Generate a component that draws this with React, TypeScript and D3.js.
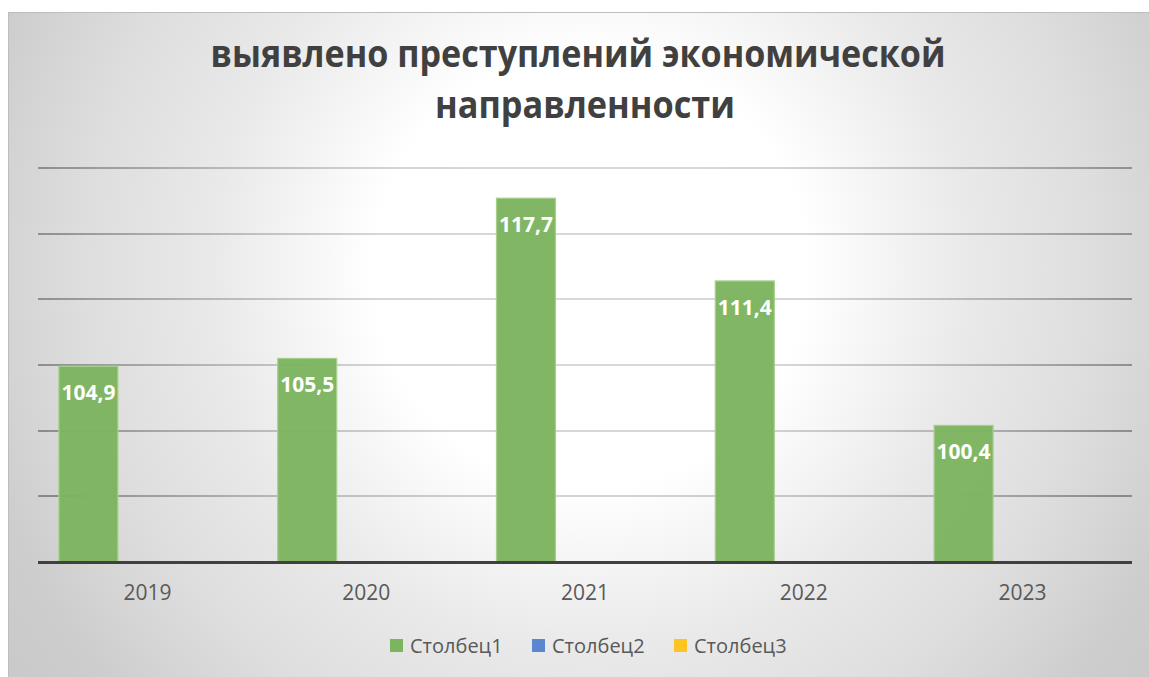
import React from "react";
import * as d3 from "d3";

const titleLines = ["выявлено преступлений экономической", "направленности"];
const categories = ["2019", "2020", "2021", "2022", "2023"];
const seriesNames = ["Столбец1", "Столбец2", "Столбец3"];
const series1 = [104.9, 105.5, 117.7, 111.4, 100.4];
const series2: (number | null)[] = [null, null, null, null, null];
const series3: (number | null)[] = [null, null, null, null, null];
const yTicks = [90, 95, 100, 105, 110, 115, 120];
const seriesColors = ["#7DB55F", "#5B87D0", "#FEC421"];

const W = 1149;
const H = 677;
const FONT = "'Open Sans', 'Noto Sans', sans-serif";

export default function App() {
  const allSeries = [series1, series2, series3];
  const x = d3.scaleBand<string>().domain(categories).range([38, 1132]).padding(0);
  const x1 = d3
    .scaleBand<string>()
    .domain(seriesNames)
    .range([0, x.bandwidth()])
    .paddingInner(0)
    .paddingOuter(0.354);
  const y = d3.scaleLinear().domain([90, 120]).range([562, 168]);
  const fmt = (v: number) => v.toFixed(1).replace(".", ",");

  return (
    <svg
      width={W}
      height={H}
      style={{ position: "absolute", left: 0, top: 0, display: "block" }}
    >
      <defs>
        <radialGradient id="bg" gradientUnits="userSpaceOnUse" cx={590} cy={270} r={720}>
          <stop offset="0" stopColor="#ffffff" />
          <stop offset="0.3" stopColor="#ffffff" />
          <stop offset="0.53" stopColor="#e9e9e9" />
          <stop offset="0.7" stopColor="#dedede" />
          <stop offset="0.8" stopColor="#d5d5d5" />
          <stop offset="0.88" stopColor="#cdcdcd" />
          <stop offset="1" stopColor="#c9c9c9" />
        </radialGradient>
        <radialGradient id="grid" gradientUnits="userSpaceOnUse" cx={590} cy={270} r={720}>
          <stop offset="0" stopColor="#d9d9d9" />
          <stop offset="0.3" stopColor="#d6d6d6" />
          <stop offset="0.55" stopColor="#b5b5b5" />
          <stop offset="0.8" stopColor="#8a8a8a" />
          <stop offset="1" stopColor="#808080" />
        </radialGradient>
      </defs>
      <rect x={0} y={0} width={W} height={H} fill="#ffffff" />
      <rect x={8.5} y={12.5} width={W} height={H} fill="url(#bg)" stroke="#bdbdbd" strokeWidth={1} />

      {/* title */}
      <text
        x={578}
        y={67}
        textAnchor="middle"
        fontFamily={FONT}
        fontWeight={700}
        fontSize={38}
        fill="#404040"
        textLength={735}
        lengthAdjust="spacingAndGlyphs"
      >
        {titleLines[0]}
      </text>
      <text
        x={585}
        y={118}
        textAnchor="middle"
        fontFamily={FONT}
        fontWeight={700}
        fontSize={38}
        fill="#404040"
        textLength={300}
        lengthAdjust="spacingAndGlyphs"
      >
        {titleLines[1]}
      </text>

      {/* gridlines */}
      {yTicks
        .filter((t) => t !== 90)
        .map((t) => (
          <line
            key={t}
            x1={38}
            x2={1132}
            y1={Math.round(y(t))}
            y2={Math.round(y(t))}
            stroke="url(#grid)"
            strokeWidth={2}
          />
        ))}

      {/* bars */}
      {categories.map((c, i) => (
        <g key={c} transform={`translate(${x(c)},0)`}>
          {allSeries.map((s, si) => {
            const v = s[i];
            if (v == null) return null;
            const bx = x1(seriesNames[si]) as number;
            const bw = x1.bandwidth();
            return (
              <g key={si}>
                <rect
                  x={bx}
                  y={y(v)}
                  width={bw}
                  height={y(90) - y(v)}
                  fill={seriesColors[si]}
                  fillOpacity={0.97}
                  stroke="#a8d08d"
                  strokeWidth={1.2}
                />
                <text
                  x={bx + bw / 2}
                  y={y(v) + 34}
                  textAnchor="middle"
                  fontFamily={FONT}
                  fontWeight={700}
                  fontSize={21}
                  fill="#ffffff"
                >
                  {fmt(v)}
                </text>
              </g>
            );
          })}
        </g>
      ))}

      {/* baseline */}
      <line x1={38} x2={1132} y1={y(90) + 0.5} y2={y(90) + 0.5} stroke="#404040" strokeWidth={3} />

      {/* category labels */}
      {categories.map((c) => (
        <text
          key={c}
          x={(x(c) as number) + x.bandwidth() / 2}
          y={600}
          textAnchor="middle"
          fontFamily={FONT}
          fontSize={21}
          fill="#595959"
        >
          {c}
        </text>
      ))}

      {/* legend */}
      {seriesNames.map((n, i) => (
        <g key={n} transform={`translate(${390 + i * 142},639)`}>
          <rect x={0} y={0} width={13} height={13} fill={seriesColors[i]} />
          <text x={20} y={14} fontFamily={FONT} fontSize={20} fill="#595959">
            {n}
          </text>
        </g>
      ))}
    </svg>
  );
}
